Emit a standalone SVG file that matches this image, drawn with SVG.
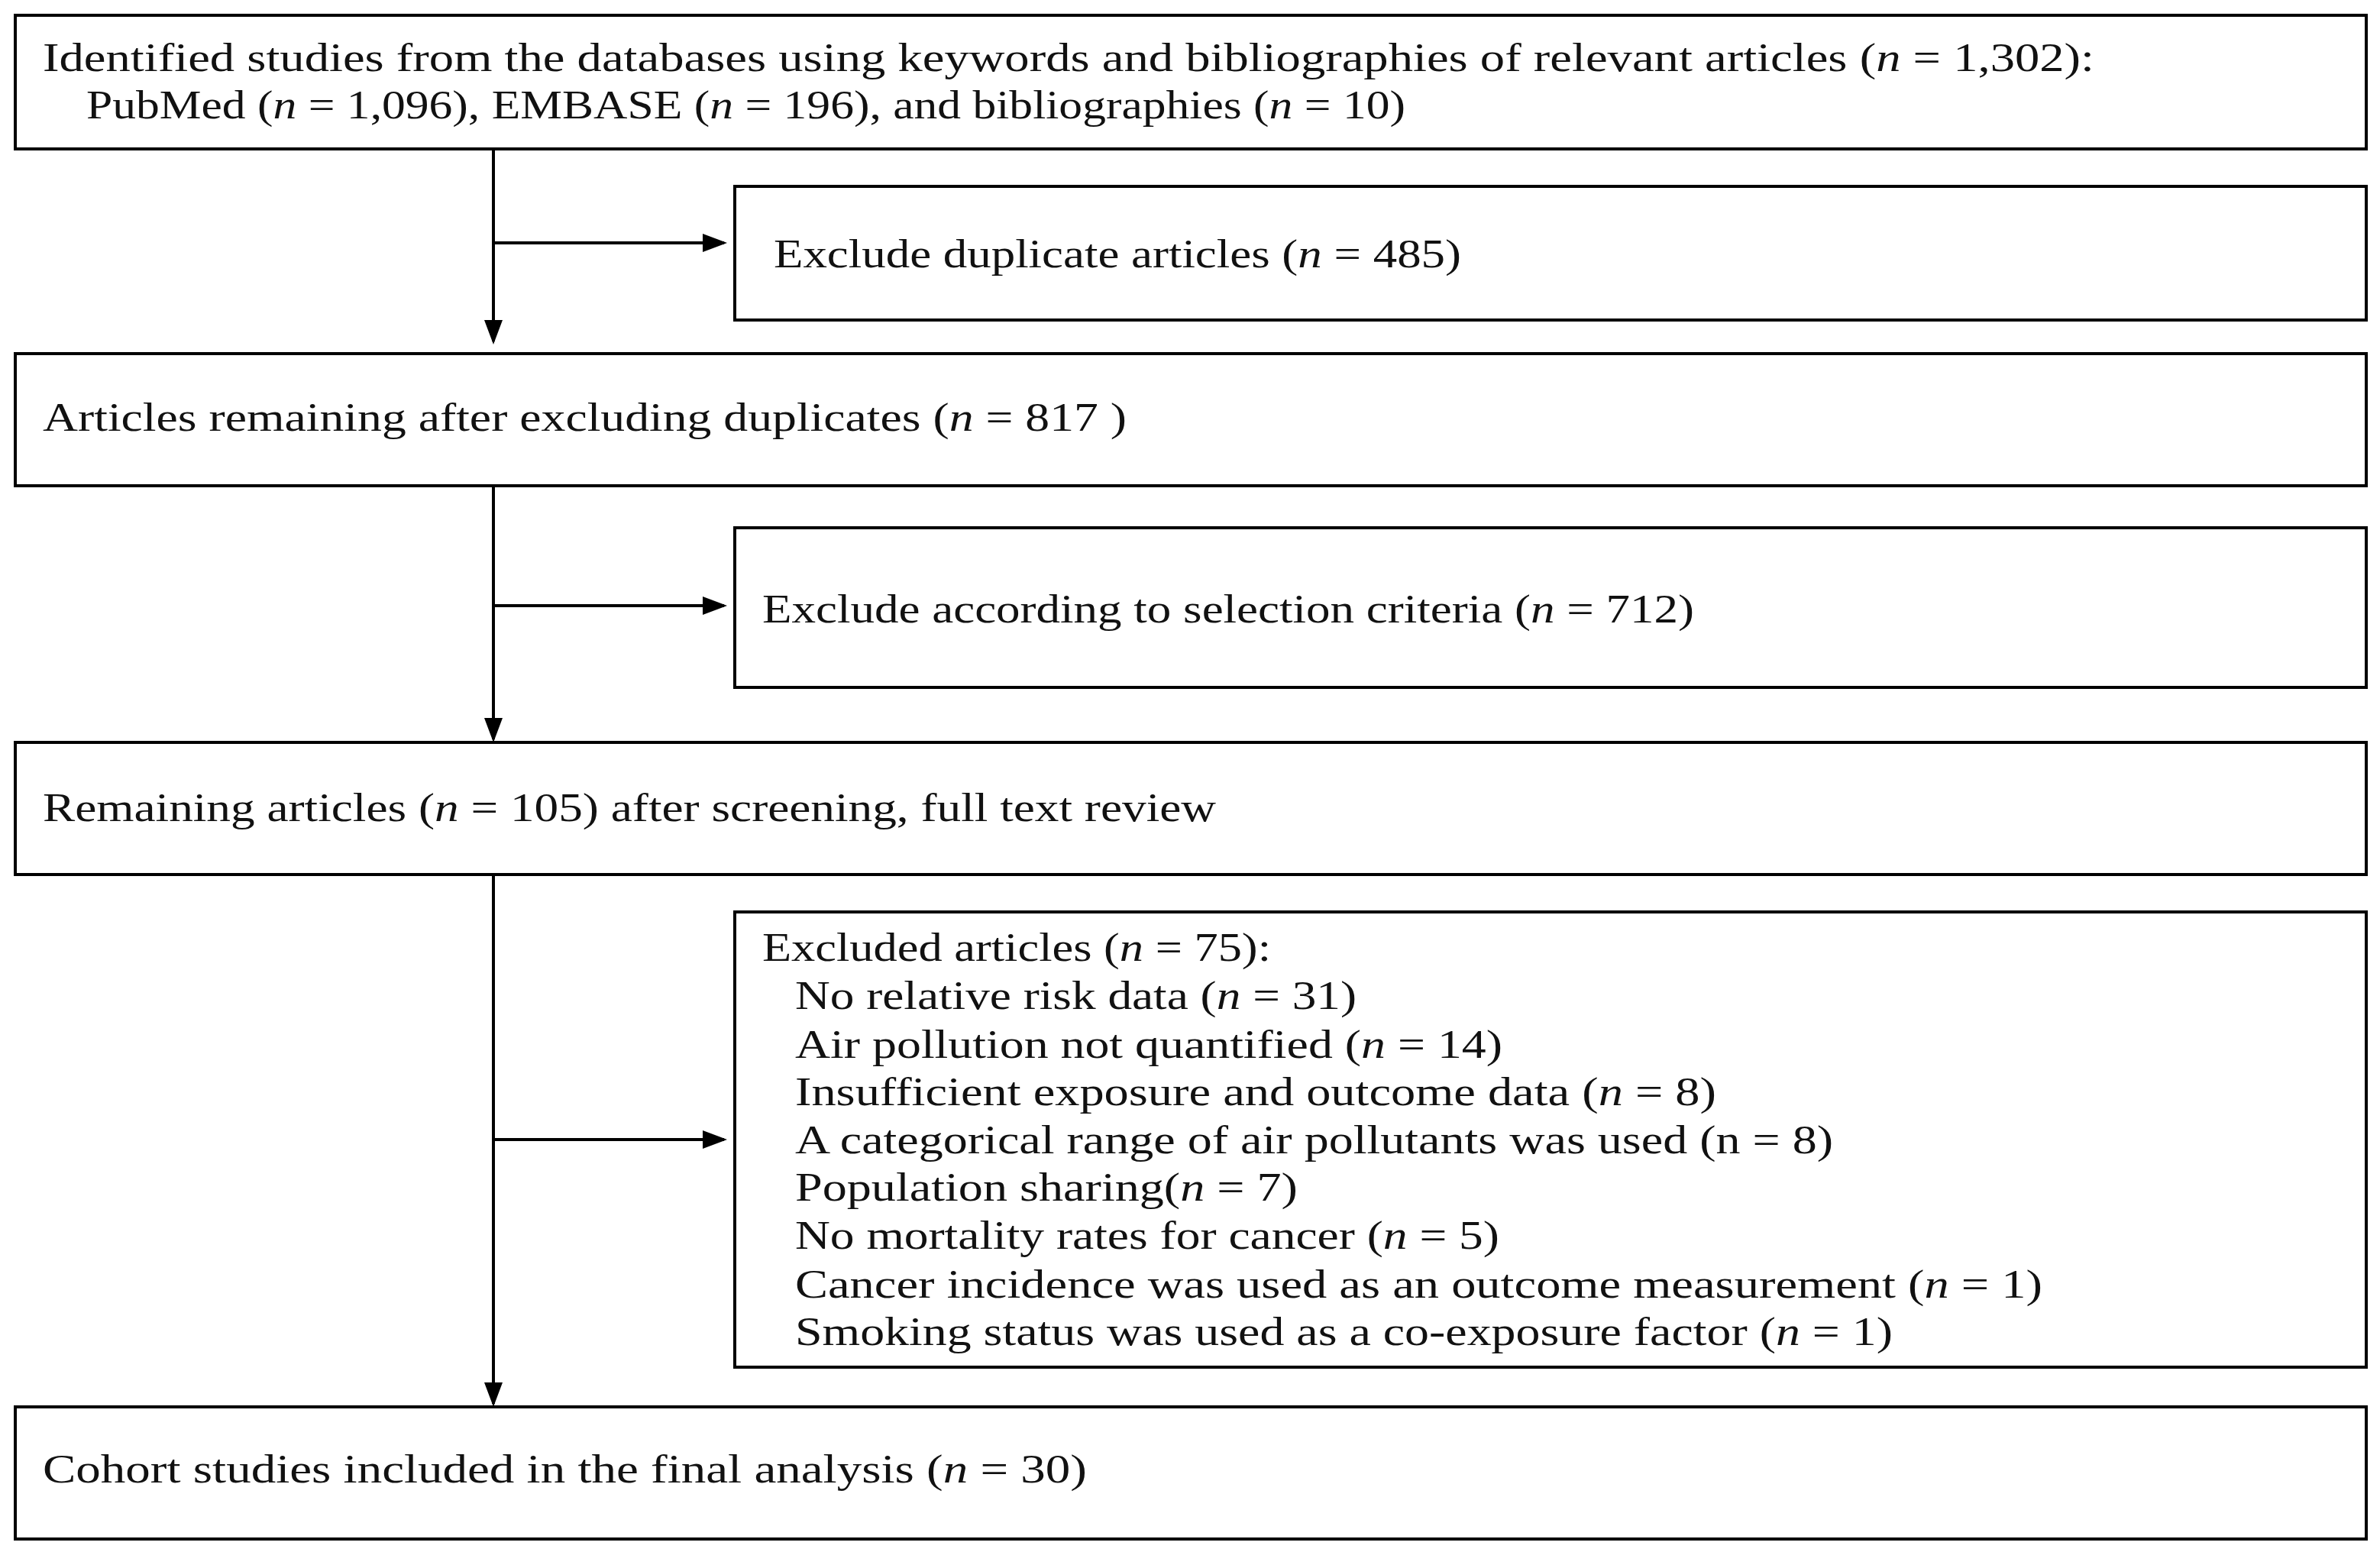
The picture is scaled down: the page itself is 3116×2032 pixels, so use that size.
<svg xmlns="http://www.w3.org/2000/svg" width="3116" height="2032" viewBox="0 0 3116 2032">
<style>
rect{fill:#fff;stroke:#000;stroke-width:4}
text{font-family:"Liberation Serif","Times New Roman",serif;font-size:52px;fill:#111}
.i{font-style:italic}
.c{stroke:#000;stroke-width:4;fill:none}
</style>
<defs><marker id="a" markerWidth="8" markerHeight="6" refX="7" refY="3" orient="auto" markerUnits="strokeWidth"><path d="M0,0L8,3L0,6z" fill="#000"/></marker></defs>
<rect x="0" y="0" width="3116" height="2032" style="stroke:none"/>
<g id="n1"><rect x="20" y="20" width="3078" height="175"/>
<text x="56" y="93" textLength="2686" lengthAdjust="spacingAndGlyphs">Identified studies from the databases using keywords and bibliographies of relevant articles (<tspan class="i">n</tspan> = 1,302):</text>
<text x="113" y="155" textLength="1727" lengthAdjust="spacingAndGlyphs">PubMed (<tspan class="i">n</tspan> = 1,096), EMBASE (<tspan class="i">n</tspan> = 196), and bibliographies (<tspan class="i">n</tspan> = 10)</text></g>
<g id="n2"><rect x="962" y="244" width="2136" height="175"/>
<text x="1013" y="350" textLength="900" lengthAdjust="spacingAndGlyphs">Exclude duplicate articles (<tspan class="i">n</tspan> = 485)</text></g>
<g id="n3"><rect x="20" y="463" width="3078" height="173"/>
<text x="56" y="564" textLength="1419" lengthAdjust="spacingAndGlyphs">Articles remaining after excluding duplicates (<tspan class="i">n</tspan> = 817 )</text></g>
<g id="n4"><rect x="962" y="691" width="2136" height="209"/>
<text x="998" y="815" textLength="1220" lengthAdjust="spacingAndGlyphs">Exclude according to selection criteria (<tspan class="i">n</tspan> = 712)</text></g>
<g id="n5"><rect x="20" y="972" width="3078" height="173"/>
<text x="56" y="1075" textLength="1536" lengthAdjust="spacingAndGlyphs">Remaining articles (<tspan class="i">n</tspan> = 105) after screening, full text review</text></g>
<g id="n6"><rect x="962" y="1194" width="2136" height="596"/>
<text x="998" y="1258" textLength="666" lengthAdjust="spacingAndGlyphs">Excluded articles (<tspan class="i">n</tspan> = 75):</text>
<text x="1041" y="1321" textLength="735" lengthAdjust="spacingAndGlyphs">No relative risk data (<tspan class="i">n</tspan> = 31)</text>
<text x="1041" y="1385" textLength="926" lengthAdjust="spacingAndGlyphs">Air pollution not quantified (<tspan class="i">n</tspan> = 14)</text>
<text x="1041" y="1447" textLength="1206" lengthAdjust="spacingAndGlyphs">Insufficient exposure and outcome data (<tspan class="i">n</tspan> = 8)</text>
<text x="1041" y="1510" textLength="1359" lengthAdjust="spacingAndGlyphs">A categorical range of air pollutants was used (n = 8)</text>
<text x="1041" y="1572" textLength="658" lengthAdjust="spacingAndGlyphs">Population sharing(<tspan class="i">n</tspan> = 7)</text>
<text x="1041" y="1635" textLength="922" lengthAdjust="spacingAndGlyphs">No mortality rates for cancer (<tspan class="i">n</tspan> = 5)</text>
<text x="1041" y="1699" textLength="1633" lengthAdjust="spacingAndGlyphs">Cancer incidence was used as an outcome measurement (<tspan class="i">n</tspan> = 1)</text>
<text x="1041" y="1761" textLength="1437" lengthAdjust="spacingAndGlyphs">Smoking status was used as a co-exposure factor (<tspan class="i">n</tspan> = 1)</text></g>
<g id="n7"><rect x="20" y="1842" width="3078" height="173"/>
<text x="56" y="1941" textLength="1367" lengthAdjust="spacingAndGlyphs">Cohort studies included in the final analysis (<tspan class="i">n</tspan> = 30)</text></g>
<g id="connectors">
<path class="c" d="M646,195V447" marker-end="url(#a)"/>
<path class="c" d="M646,318H948" marker-end="url(#a)"/>
<path class="c" d="M646,636V968" marker-end="url(#a)"/>
<path class="c" d="M646,793H948" marker-end="url(#a)"/>
<path class="c" d="M646,1145V1838" marker-end="url(#a)"/>
<path class="c" d="M646,1492H948" marker-end="url(#a)"/>
</g>
</svg>
